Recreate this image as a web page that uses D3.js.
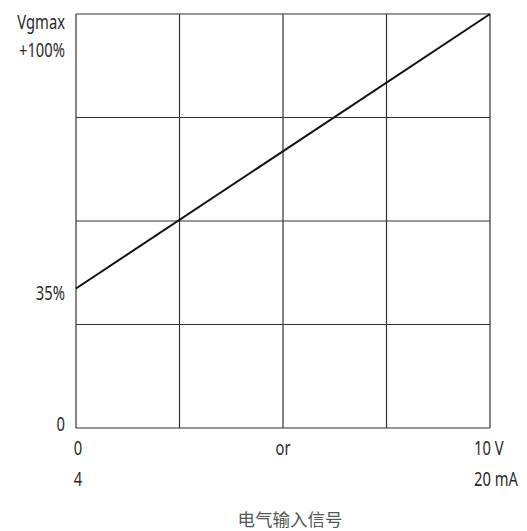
<!DOCTYPE html>
<html><head><meta charset="utf-8">
<script src="https://cdn.jsdelivr.net/npm/d3@7"></script>
<style>
body{margin:0;background:#fff;}
text{font-family:"Noto Sans","Open Sans",sans-serif;fill:#2a2a2a;}
</style></head><body>
<svg id="c" width="527" height="531"></svg>
<script>
const gridX = [0, 0.25, 0.5, 0.75, 1];
const gridY = [0, 25, 50, 75, 100];
const lineX = [0, 1];
const lineY = [33.7, 100];
const yTickValues = [0, 35, 100];
const yTickLabels = [["0"], ["35%"], ["Vgmax", "+100%"]];
const xTickValues = [0, 0.5, 1];
const xTickLabels = [["0", "4"], ["or", ""], ["10 V", "20 mA"]];
const xTitle = "电气输入信号";

const svg = d3.select("#c");
const x = d3.scaleLinear().domain([0, 1]).range([76, 490]);
const y = d3.scaleLinear().domain([0, 100]).range([428, 14]);

const g = svg.append("g");
g.selectAll("line.v").data(gridX).join("line")
  .attr("x1", d => x(d)).attr("x2", d => x(d))
  .attr("y1", y(0)).attr("y2", y(100))
  .attr("stroke", "#333").attr("stroke-width", 1.2);
g.selectAll("line.h").data(gridY).join("line")
  .attr("y1", d => y(d)).attr("y2", d => y(d))
  .attr("x1", x(0)).attr("x2", x(1))
  .attr("stroke", "#333").attr("stroke-width", 1.2);

const pts = lineX.map((v, i) => [v, lineY[i]]);
g.append("path").datum(pts)
  .attr("d", d3.line().x(d => x(d[0])).y(d => y(d[1])))
  .attr("fill", "none").attr("stroke", "#111").attr("stroke-width", 2);

function label(px, py, anchor, t) {
  svg.append("text").attr("transform", `translate(${px},${py}) scale(0.72,1)`)
    .attr("text-anchor", anchor).attr("dominant-baseline", "central")
    .attr("font-size", 20.5).text(t);
}
// y labels
const yOff = {0: [-5], 35: [9], 100: [7, 35]};
yTickValues.forEach((v, i) => {
  yTickLabels[i].forEach((t, j) => label(65, y(v) + yOff[v][j], "end", t));
});
// x labels
xTickValues.forEach((v, i) => {
  xTickLabels[i].forEach((t, j) => {
    const last = v === 1;
    const px = last ? x(v) - 16 : (v === 0 ? x(v) + 2 : x(v));
    label(px, 447 + j * 31, last ? "start" : "middle", t);
  });
});
svg.append("text").attr("x", 290).attr("y", 518)
  .attr("text-anchor", "middle").attr("dominant-baseline", "central")
  .attr("font-size", 17.5).style("font-family", "'Noto Sans CJK SC',sans-serif")
  .style("fill", "#555").text(xTitle);
</script></body></html>
